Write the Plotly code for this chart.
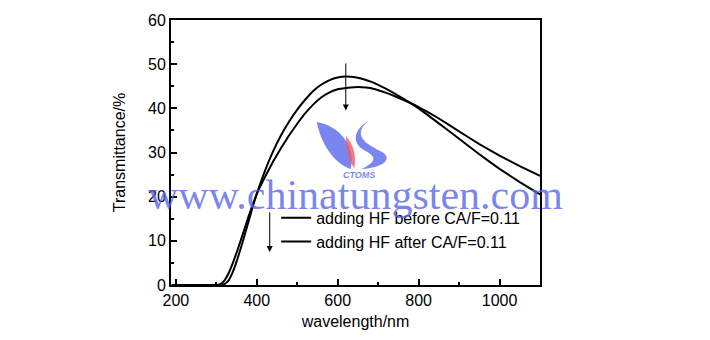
import plotly.graph_objects as go

# Transmittance spectra (wavelength in nm, transmittance in %)
wavelength = [190, 300, 310, 320, 330, 340, 350, 360, 370, 380, 390, 400, 410, 420,
              440, 460, 480, 500, 520, 540, 560, 580, 600, 620, 640, 660, 680,
              700, 720, 740, 760, 780, 800, 850, 900, 950, 1000, 1050, 1100]

hf_before = [0, 0, 0, 0.2, 1.0, 2.8, 5.3, 8.2, 11.3, 14.5, 17.7, 20.7, 23.3, 25.8,
             30.2, 33.9, 37.0, 39.7, 42.0, 44.0, 45.4, 46.4, 47.0, 47.2, 47.1, 46.7, 46.1,
             45.3, 44.4, 43.4, 42.3, 41.2, 40.0, 36.6, 33.1, 29.6, 26.3, 23.3, 20.5]

hf_after = [0, 0, 0.2, 1.0, 2.6, 4.8, 7.3, 10.0, 12.8, 15.6, 18.2, 20.6, 22.6, 24.4,
            27.9, 31.0, 33.9, 36.5, 38.9, 40.9, 42.5, 43.6, 44.3, 44.6, 44.8, 44.8, 44.6,
            44.1, 43.5, 42.8, 42.0, 41.2, 40.3, 37.7, 34.8, 31.9, 29.3, 26.9, 24.7]

series_names = ["adding HF before CA/F=0.11", "adding HF after CA/F=0.11"]

# Arrows marking the change between the two spectra: (x, y_start, y_end)
arrows = [(620, 50.5, 39.5), (432, 16.8, 7.5)]

x_ticks = [200, 400, 600, 800, 1000]
y_ticks = [0, 10, 20, 30, 40, 50, 60]

FONT = "Liberation Sans, Arial, sans-serif"
BLUE = "rgba(85,100,235,0.78)"
RED = "rgba(240,85,105,0.8)"

fig = go.Figure()
for name, values in zip(series_names, [hf_before, hf_after]):
    fig.add_trace(go.Scatter(
        x=wavelength, y=values, mode="lines", name=name,
        line=dict(color="black", width=2, shape="spline", smoothing=0.3),
    ))

for x, y0, y1 in arrows:
    fig.add_annotation(
        x=x, y=y1, ax=x, ay=y0, xref="x", yref="y", axref="x", ayref="y",
        text="", showarrow=True, arrowhead=2, arrowsize=1.2, arrowwidth=1,
        arrowcolor="black",
    )

# Site logo and watermark
logo_paths = [
    ("M0.395,0.615 C0.460,0.600 0.500,0.520 0.487,0.438 "
     "C0.455,0.450 0.410,0.510 0.395,0.615 Z", BLUE),
    ("M0.474,0.5625 C0.4905,0.537 0.503,0.500 0.497,0.441 "
     "C0.484,0.463 0.476,0.500 0.474,0.5625 Z", RED),
    ("M0.534,0.618 C0.495,0.574 0.518,0.537 0.566,0.507 "
     "C0.603,0.482 0.584,0.445 0.516,0.4375 "
     "C0.553,0.463 0.561,0.482 0.526,0.507 "
     "C0.485,0.537 0.499,0.592 0.534,0.618 Z", BLUE),
]
for path, color in logo_paths:
    fig.add_shape(type="path", path=path, xref="paper", yref="paper",
                  fillcolor=color, line=dict(width=0), layer="below")

fig.add_annotation(
    x=0.51, y=0.415, xref="paper", yref="paper", text="<i><b>CTOMS</b></i>",
    showarrow=False, font=dict(family=FONT, size=9, color=BLUE),
)
fig.add_annotation(
    x=0.5, y=0.245, xref="paper", yref="paper", text="www.chinatungsten.com",
    showarrow=False, font=dict(family="Liberation Serif, Times New Roman, serif",
                               size=42, color=BLUE),
)

axis_common = dict(
    showline=True, linecolor="black", linewidth=2, mirror=True,
    ticks="inside", ticklen=6, tickwidth=1.5, tickcolor="black",
    showgrid=False, zeroline=False,
    tickfont=dict(family=FONT, size=16, color="black"),
)

fig.update_xaxes(
    range=[188, 1100], tickvals=x_ticks,
    minor=dict(ticks="inside", ticklen=3, dtick=100, tick0=100, tickcolor="black"),
    title=dict(text="wavelength/nm", font=dict(family=FONT, size=16, color="black"),
               standoff=8),
    **axis_common,
)
fig.update_yaxes(
    range=[0, 60], tickvals=y_ticks,
    minor=dict(ticks="inside", ticklen=3, dtick=5, tickcolor="black"),
    title=dict(text="Transmittance/%", font=dict(family=FONT, size=16, color="black"),
               standoff=18),
    **axis_common,
)

fig.update_layout(
    width=710, height=340,
    margin=dict(l=171, r=170, t=14, b=54),
    paper_bgcolor="white", plot_bgcolor="white",
    showlegend=True,
    legend=dict(
        x=0.285, y=0.318, xanchor="left", yanchor="top",
        bgcolor="rgba(0,0,0,0)", borderwidth=0,
        font=dict(family=FONT, size=16, color="black"),
        tracegroupgap=0, itemwidth=30,
    ),
)

fig.write_html("out.html")
